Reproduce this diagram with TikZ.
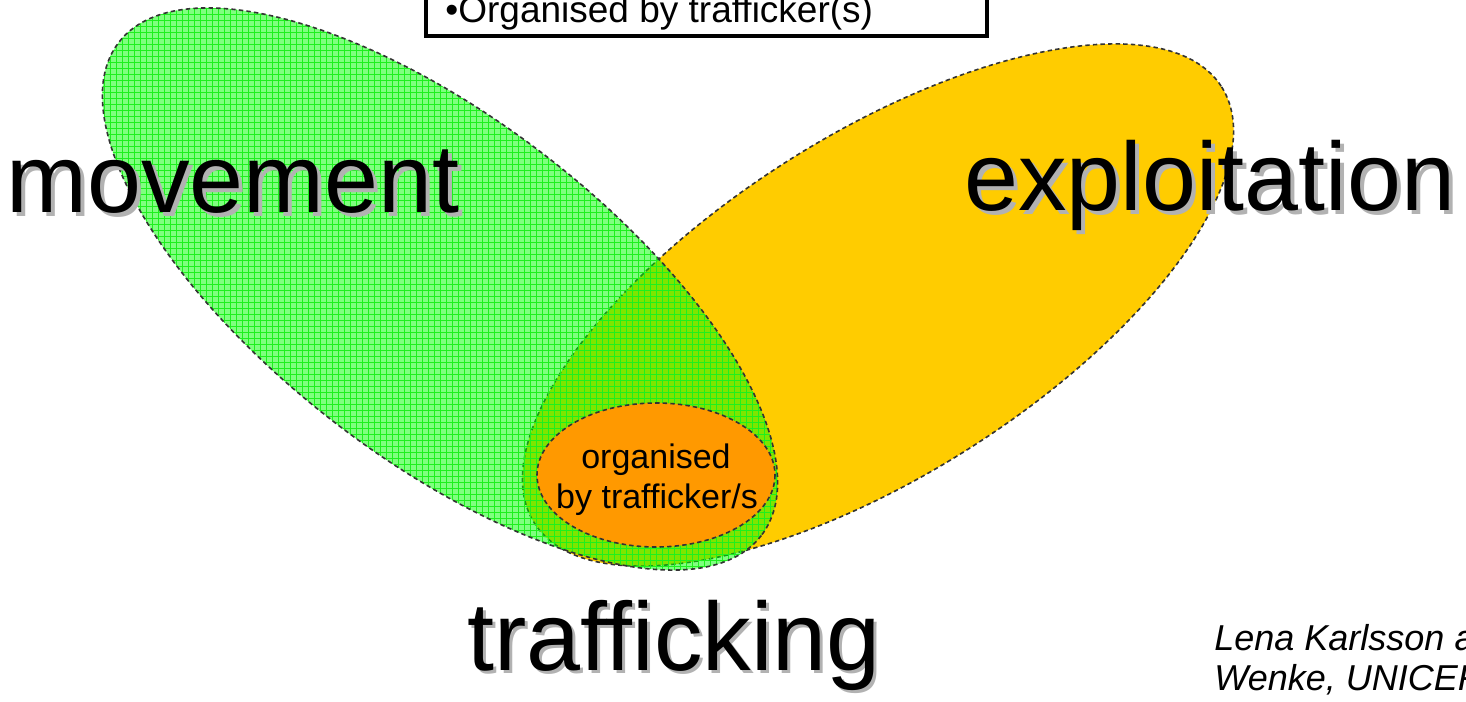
\documentclass[tikz,border=0pt]{standalone}
\usepackage{fontspec}
\setmainfont{Liberation Sans}
\definecolor{movegreen}{RGB}{0,255,0}
\definecolor{gridgreen}{RGB}{30,240,30}
\definecolor{exploityellow}{RGB}{255,204,0}
\definecolor{tradeorange}{RGB}{255,153,0}
\definecolor{shadowgray}{RGB}{178,178,178}
\tikzset{
  outline/.style={draw=black!80, line width=0.8pt, dash pattern=on 2.2pt off 1.6pt},
  gridline/.style={draw=gridgreen, line width=0.35pt},
  bigword/.style={inner sep=0pt, anchor=base west, font=\fontsize{48.5}{58}\selectfont},
  bigshadow/.style={bigword, text=shadowgray},
  smallword/.style={inner sep=0pt, anchor=base, font=\fontsize{17}{20}\selectfont},
  boxword/.style={inner sep=0pt, anchor=base west, font=\fontsize{18.5}{22}\selectfont},
  creditword/.style={inner sep=0pt, anchor=base west, font=\fontsize{18}{20}\selectfont\itshape}
}
\begin{document}
\begin{tikzpicture}[x=0.5pt, y=-0.5pt]
  \useasboundingbox (0,0) rectangle (1466,701);
  \clip (0,0) rectangle (1466,701);
  \fill[white] (0,0) rectangle (1466,701);
  \coordinate (movc) at (440,289);
  \coordinate (expc) at (878,305);
  \coordinate (orgc) at (656,475);
  % exploitation
  \fill[exploityellow] (expc) circle[x radius=407, y radius=170, rotate=32.4];
  \draw[outline] (expc) circle[x radius=407, y radius=170, rotate=32.4];
  % movement, see-through with grid
  \fill[movegreen, fill opacity=0.5] (movc) circle[x radius=405, y radius=170, rotate=-37.5];
  \begin{scope}
    \clip (movc) circle[x radius=405, y radius=170, rotate=-37.5];
    \foreach \gx in {98,104,...,800}
      \draw[gridline] (\gx,0) -- (\gx,600);
    \foreach \gy in {2,8,...,600}
      \draw[gridline] (80,\gy) -- (820,\gy);
  \end{scope}
  \draw[outline] (movc) circle[x radius=405, y radius=170, rotate=-37.5];
  % trafficking
  \filldraw[outline, fill=tradeorange] (orgc) circle[x radius=119, y radius=72];
  \node[smallword] (orgline1) at (656,468) {organised};
  \node[smallword] (orgline2) at (657,508) {by trafficker/s};
  % words
  \node[bigshadow] (movshadow) at (10,216) {movement};
  \node[bigword] (movword) at (6,212) {movement};
  \node[bigshadow] (expshadow) at (968,214) {exploitation};
  \node[bigword] (expword) at (964,210) {exploitation};
  \node[bigshadow] (trafshadow) at (470,673) {trafficking};
  \node[bigword] (trafword) at (467,670) {trafficking};
  % box
  \draw[line width=1.8pt] (426,-40) rectangle (987,36);
  \node[boxword] (boxline) at (445,23) {•Organised by trafficker(s)};
  % credit
  \node[creditword] (credit1) at (1214,650) {Lena Karlsson and};
  \node[creditword] (credit2) at (1214,690) {Wenke, UNICEF};
\end{tikzpicture}
\end{document}
